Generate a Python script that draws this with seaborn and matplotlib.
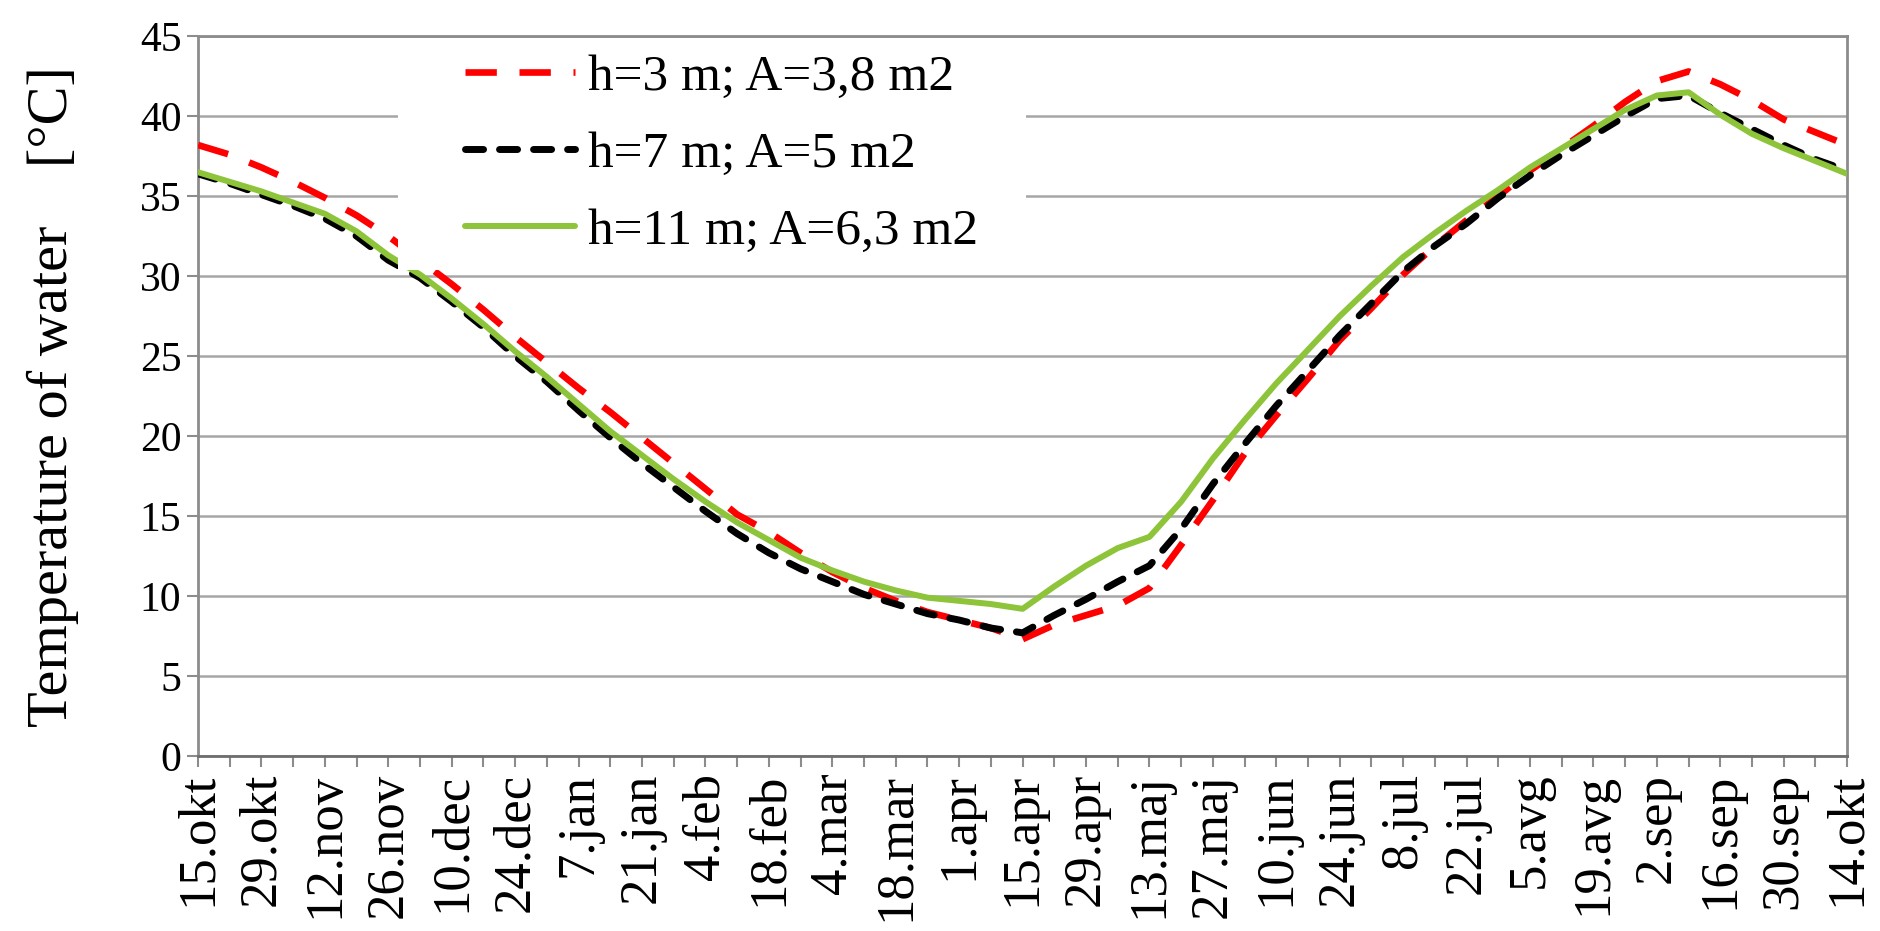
import numpy as np
import pandas as pd
import matplotlib
matplotlib.use("Agg")
import matplotlib.pyplot as plt
import seaborn as sns
from matplotlib.patches import Rectangle

# ---- data ----
date_labels = ["15.okt", "29.okt", "12.nov", "26.nov", "10.dec", "24.dec", "7.jan",
               "21.jan", "4.feb", "18.feb", "4.mar", "18.mar", "1.apr", "15.apr",
               "29.apr", "13.maj", "27.maj", "10.jun", "24.jun", "8.jul", "22.jul",
               "5.avg", "19.avg", "2.sep", "16.sep", "30.sep", "14.okt"]
weeks = list(range(53))

series_names = ["h=3 m; A=3,8 m2", "h=7 m; A=5 m2", "h=11 m; A=6,3 m2"]

temp_h3 = [38.2, 37.6, 36.8, 35.9, 34.9, 33.8, 32.5, 31.0, 29.5, 27.9,
           26.2, 24.6, 23.0, 21.5, 19.9, 18.3, 16.7, 15.1, 14.0, 12.7,
           11.5, 10.5, 9.7, 9.0, 8.5, 8.0, 7.3, 8.2, 8.8, 9.4,
           10.5, 13.2, 16.0, 18.9, 21.3, 23.6, 26.0, 28.0, 30.1, 31.9,
           33.5, 35.0, 36.6, 38.0, 39.4, 40.9, 42.2, 42.8, 42.0, 41.0,
           39.8, 39.0, 38.2]
temp_h7 = [36.4, 35.8, 35.1, 34.4, 33.6, 32.5, 31.0, 29.9, 28.4, 26.8,
           25.0, 23.4, 21.6, 19.9, 18.3, 16.8, 15.3, 13.9, 12.7, 11.7,
           10.9, 10.1, 9.5, 8.9, 8.5, 8.0, 7.7, 8.8, 9.8, 10.9,
           11.9, 14.2, 17.0, 19.5, 21.9, 24.1, 26.3, 28.3, 30.3, 31.9,
           33.3, 34.9, 36.3, 37.6, 38.8, 40.0, 41.1, 41.3, 40.2, 39.2,
           38.2, 37.3, 36.6]
temp_h11 = [36.5, 35.9, 35.3, 34.6, 33.9, 32.8, 31.3, 30.1, 28.6, 27.0,
            25.3, 23.7, 22.0, 20.3, 18.8, 17.3, 15.9, 14.6, 13.5, 12.4,
            11.6, 10.9, 10.35, 9.9, 9.7, 9.5, 9.2, 10.6, 11.9, 13.0,
            13.7, 15.9, 18.6, 21.0, 23.3, 25.4, 27.5, 29.4, 31.2, 32.7,
            34.1, 35.4, 36.8, 38.0, 39.2, 40.4, 41.3, 41.5, 40.1, 38.9,
            38.0, 37.2, 36.4]

y_ticks = [0, 5, 10, 15, 20, 25, 30, 35, 40, 45]

# ---- figure ----
sns.set_theme(style="white")
plt.rcParams["font.family"] = ["Liberation Serif", "DejaVu Serif"]
plt.rcParams["text.color"] = "black"
plt.rcParams["axes.labelcolor"] = "black"
plt.rcParams["xtick.labelcolor"] = "black"
plt.rcParams["ytick.labelcolor"] = "black"

fig = plt.figure(figsize=(18.81, 9.31), dpi=100)
ax = fig.add_axes([0.1053, 0.188, 0.8767, 0.773])

df = pd.DataFrame({"week": weeks, "h3": temp_h3, "h7": temp_h7, "h11": temp_h11})

sns.lineplot(data=df, x="week", y="h3", ax=ax, color="#FF0000", lw=4.8,
             linestyle=(0, (4.7, 3.4)), label=series_names[0], zorder=4)
sns.lineplot(data=df, x="week", y="h7", ax=ax, color="#000000", lw=5.0,
             linestyle=(0, (2.6, 2.3)), dash_capstyle="round",
             label=series_names[1], zorder=4)
sns.lineplot(data=df, x="week", y="h11", ax=ax, color="#8DC43A", lw=4.3,
             linestyle="-", label=series_names[2], zorder=5)

ax.set_xlim(0, 52)
ax.set_ylim(0, 45)
ax.set_yticks(y_ticks)
ax.set_yticklabels([str(v) for v in y_ticks], fontsize=30)
ax.set_xticks(weeks)
xt = []
for i in weeks:
    xt.append(date_labels[i // 2] if i % 2 == 0 else "")
ax.set_xticklabels(xt, rotation=90, fontsize=38)

ax.grid(axis="y", color="#A6A6A6", lw=1.8, zorder=0)
ax.grid(axis="x", visible=False)
ax.set_axisbelow(True)
for side in ["left", "right", "top", "bottom"]:
    ax.spines[side].set_visible(True)
    ax.spines[side].set_color("#8C8C8C")
    ax.spines[side].set_linewidth(2)
ax.spines["bottom"].set_color("#6E6E6E")
ax.tick_params(axis="both", which="both", direction="out", length=8, width=1.5,
               color="#8C8C8C", pad=4, left=True, bottom=True)

ax.set_xlabel("")
ax.set_ylabel("Temperature of water    [\u00b0C]", fontsize=42, labelpad=44)

# white legend box covering the plot area
ax.add_patch(Rectangle((0.121, 0.675), 0.381, 0.32, transform=ax.transAxes,
                       facecolor="white", edgecolor="none", zorder=6))
leg = ax.legend(loc="upper left", bbox_to_anchor=(0.143, 1.018), frameon=False,
                fontsize=37, handlelength=2.15, handletextpad=0.25,
                labelspacing=0.58, borderaxespad=0.2)
leg.set_zorder(7)

fig.savefig("out.png", dpi=100, facecolor="white")
